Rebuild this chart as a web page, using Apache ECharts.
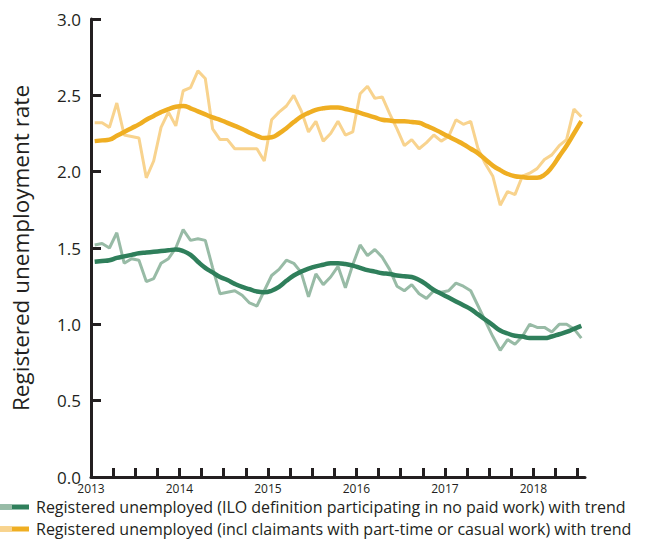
<!DOCTYPE html>
<html>
<head>
<meta charset="utf-8">
<script src="https://cdn.jsdelivr.net/npm/echarts@6/dist/echarts.min.js"></script>
<style>
html,body{margin:0;padding:0;background:#fff;}
#chart{width:647px;height:539px;}
</style>
</head>
<body>
<div id="chart"></div>
<script>
// Monthly values, Jan 2013 .. Jul 2018 (plotted at mid-month)
const years = ['2013','2014','2015','2016','2017','2018'];
const yTicks = [0, 0.5, 1.0, 1.5, 2.0, 2.5, 3.0];

const iloName = 'Registered unemployed (ILO definition participating in no paid work) with trend';
const inclName = 'Registered unemployed (incl claimants with part-time or casual work) with trend';

const iloRaw = [1.52,1.53,1.50,1.60,1.40,1.43,1.42,1.28,1.30,1.40,1.43,1.50,
  1.62,1.55,1.56,1.55,1.37,1.20,1.21,1.22,1.19,1.14,1.12,1.22,
  1.32,1.36,1.42,1.40,1.34,1.18,1.33,1.26,1.31,1.38,1.24,1.39,
  1.52,1.45,1.49,1.44,1.36,1.25,1.22,1.26,1.20,1.17,1.22,1.21,
  1.22,1.27,1.25,1.22,1.12,1.02,0.92,0.83,0.90,0.87,0.92,1.00,
  0.98,0.98,0.95,1.00,1.00,0.97,0.91];
const iloTrend = [1.41,1.415,1.42,1.435,1.445,1.455,1.465,1.47,1.475,1.48,1.485,1.49,
  1.48,1.455,1.41,1.37,1.34,1.31,1.29,1.265,1.245,1.23,1.215,1.21,
  1.22,1.245,1.285,1.32,1.345,1.365,1.38,1.39,1.40,1.40,1.395,1.385,
  1.37,1.355,1.345,1.335,1.33,1.32,1.315,1.31,1.29,1.26,1.225,1.20,
  1.175,1.15,1.125,1.10,1.065,1.03,0.995,0.96,0.94,0.925,0.92,0.91,
  0.91,0.91,0.92,0.935,0.95,0.97,0.99];
const inclRaw = [2.32,2.32,2.29,2.45,2.24,2.23,2.22,1.96,2.07,2.29,2.39,2.30,
  2.53,2.55,2.66,2.61,2.28,2.21,2.21,2.15,2.15,2.15,2.15,2.07,
  2.34,2.39,2.43,2.50,2.40,2.26,2.33,2.20,2.25,2.33,2.24,2.26,
  2.51,2.56,2.48,2.49,2.38,2.28,2.17,2.21,2.15,2.19,2.24,2.20,
  2.23,2.34,2.31,2.33,2.15,2.05,1.97,1.78,1.87,1.85,1.97,1.99,
  2.02,2.08,2.11,2.17,2.21,2.41,2.36];
const inclTrend = [2.20,2.205,2.21,2.235,2.26,2.285,2.31,2.34,2.365,2.39,2.41,2.425,
  2.43,2.415,2.395,2.375,2.355,2.34,2.32,2.30,2.28,2.255,2.235,2.22,
  2.225,2.25,2.285,2.325,2.36,2.385,2.405,2.415,2.42,2.42,2.41,2.40,
  2.385,2.37,2.355,2.34,2.335,2.33,2.33,2.325,2.32,2.30,2.28,2.255,
  2.23,2.205,2.18,2.15,2.12,2.08,2.04,2.01,1.985,1.97,1.965,1.96,
  1.96,1.98,2.03,2.10,2.17,2.25,2.33];

const colors = {
  iloLight: '#98BBA6', iloDark: '#2F7F5B',
  inclLight: '#F8D38E', inclDark: '#EFAE22'
};

function pts(arr){ return arr.map((v,i)=>[i+0.5, v]); }

const tickMonths = [];
for (let m = 0; m <= 66; m += 3) tickMonths.push(m);
const labelMonths = years.map((y,i)=>i*12);

const chart = echarts.init(document.getElementById('chart'), null, {renderer:'svg'});
const axisColor = '#231F20';
const fontFam = '"Open Sans", "Noto Sans", sans-serif';

chart.setOption({
  animation:false,
  backgroundColor:'#fff',
  grid:{left:91, top:19, width:494, height:458, containLabel:false},
  xAxis:{
    type:'value', min:0, max:67,
    axisLine:{lineStyle:{color:axisColor,width:3}},
    axisTick:{show:true, inside:true, length:9, lineStyle:{color:axisColor,width:3}, customValues:tickMonths},
    axisLabel:{customValues:labelMonths, formatter:(v)=>years[Math.round(v/12)], color:axisColor, fontSize:12, lineHeight:13, margin:5, fontFamily:fontFam},
    splitLine:{show:false}
  },
  yAxis:{
    type:'value', min:0, max:3, interval:0.5,
    name:'Registered unemployment rate', nameLocation:'middle', nameGap:59, nameRotate:90,
    nameTextStyle:{fontSize:22.5, color:axisColor, fontFamily:fontFam},
    axisLine:{show:true, lineStyle:{color:axisColor,width:3}},
    axisTick:{show:true, inside:true, length:10, lineStyle:{color:axisColor,width:3}},
    axisLabel:{formatter:(v)=>v.toFixed(1), color:axisColor, fontSize:17, margin:10, fontFamily:fontFam},
    splitLine:{show:false}
  },
  legend:{
    orient:'vertical', left:0, top:499, padding:0, itemWidth:29, itemHeight:5, itemGap:6,
    icon:'rect', height:38,
    data:[iloName, inclName],
    textStyle:{fontSize:16, color:'#231F20', fontFamily:fontFam, lineHeight:16, padding:[0,0,0,2]}
  },
  series:[
    {name:'ILO raw', type:'line', data:pts(iloRaw), symbol:'none', lineStyle:{color:colors.iloLight,width:3}, itemStyle:{color:colors.iloLight}, z:2},
    {name:iloName, type:'line', data:pts(iloTrend), symbol:'none', smooth:0.5, lineStyle:{color:colors.iloDark,width:4.5}, itemStyle:{color:colors.iloDark}, z:3},
    {name:'Incl raw', type:'line', data:pts(inclRaw), symbol:'none', lineStyle:{color:colors.inclLight,width:3}, itemStyle:{color:colors.inclLight}, z:2},
    {name:inclName, type:'line', data:pts(inclTrend), symbol:'none', smooth:0.5, lineStyle:{color:colors.inclDark,width:4.5}, itemStyle:{color:colors.inclDark}, z:3}
  ],
  graphic:[
    {type:'rect', left:0, top:504.5, shape:{width:12, height:5}, style:{fill:colors.iloLight}, z:100},
    {type:'rect', left:0, top:526.5, shape:{width:12, height:5}, style:{fill:colors.inclLight}, z:100}
  ]
});
</script>
</body>
</html>
